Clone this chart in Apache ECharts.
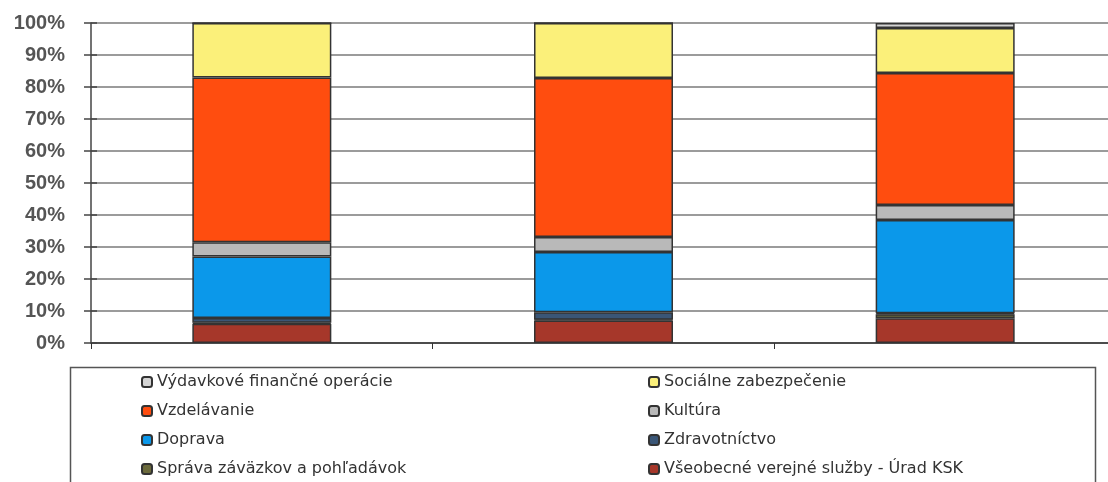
<!DOCTYPE html>
<html>
<head>
<meta charset="utf-8">
<script src="https://cdn.jsdelivr.net/npm/echarts@6/dist/echarts.min.js"></script>
<style>html,body{margin:0;padding:0;background:#fff;overflow:hidden;width:1108px;height:482px}#c{width:1130px;height:530px}</style>
</head>
<body>
<div id="c"></div>
<script>
const categories = ['1', '2', '3'];
const yTicks = ['0%','10%','20%','30%','40%','50%','60%','70%','80%','90%','100%'];
// stacked from bottom to top
const seriesNames = [
  'Všeobecné verejné služby - Úrad KSK',
  'Správa záväzkov a pohľadávok',
  'Zdravotníctvo',
  'Doprava',
  'Kultúra',
  'Vzdelávanie',
  'Sociálne zabezpečenie',
  'Výdavkové finančné operácie'
];
const vseobecne   = [6.0, 7.0, 7.7];
const sprava      = [0.3, 0.3, 1.3];
const zdravotnic  = [1.5, 2.3, 0.3];
const doprava     = [19.2, 18.8, 29.1];
const kultura     = [4.5, 4.7, 4.7];
const vzdelavanie = [51.5, 49.7, 41.3];
const socialne    = [17.0, 17.2, 14.0];
const vydavkove   = [0.0, 0.0, 1.6];
const seriesValues = [vseobecne, sprava, zdravotnic, doprava, kultura, vzdelavanie, socialne, vydavkove];
const colors = ['#a6372a', '#6b6a3c', '#3a5677', '#0b98ea', '#b9b9b9', '#ff4d0f', '#fbf07a', '#d4d4d4'];
const legendCol1 = ['Výdavkové finančné operácie', 'Vzdelávanie', 'Doprava', 'Správa záväzkov a pohľadávok'];
const legendCol2 = ['Sociálne zabezpečenie', 'Kultúra', 'Zdravotníctvo', 'Všeobecné verejné služby - Úrad KSK'];

const chart = echarts.init(document.getElementById('c'), null, {renderer: 'canvas'});
const legendText = {fontFamily: 'DejaVu Sans, sans-serif', fontSize: 16, color: '#333', lineHeight: 14};
const option = {
  animation: false,
  backgroundColor: '#fff',
  grid: {left: 91, top: 23, width: 1025, height: 320, containLabel: false},
  xAxis: {
    type: 'category', data: categories,
    axisLine: {lineStyle: {color: '#333', width: 1.5}},
    axisTick: {show: true, length: 6, lineStyle: {color: '#333'}},
    axisLabel: {show: false},
    splitLine: {show: false}
  },
  yAxis: [{
    type: 'value', min: 0, max: 100, interval: 10, position: 'left',
    axisLine: {show: true, lineStyle: {color: '#444', width: 1.5}},
    axisTick: {show: true, length: 7, lineStyle: {color: '#444', width: 1.5}},
    axisLabel: {
      margin: 26,
      formatter: function (v) { return yTicks[Math.round(v / 10)]; },
      fontFamily: 'Liberation Sans, Arial, sans-serif', fontSize: 20, fontWeight: 'bold', color: '#555'
    },
    splitLine: {show: true, lineStyle: {color: '#7a7a7a', width: 1.5}}
  }, {
    type: 'value', min: 0, max: 100, interval: 10, position: 'left', offset: 0,
    axisLine: {show: false},
    axisTick: {show: true, inside: true, length: 6, lineStyle: {color: '#444', width: 1.5}},
    axisLabel: {show: false},
    splitLine: {show: false}
  }],
  legend: [{
    orient: 'vertical', left: 141, top: 374, height: 140, itemWidth: 10, itemHeight: 10, itemGap: 13,
    data: legendCol1, textStyle: legendText, padding: 0, selectedMode: false
  }, {
    orient: 'vertical', left: 648, top: 374, height: 140, itemWidth: 10, itemHeight: 10, itemGap: 13,
    data: legendCol2, textStyle: legendText, padding: 0, selectedMode: false
  }],
  graphic: [{
    type: 'rect', left: 68, top: 365,
    shape: {width: 1025, height: 140},
    style: {fill: 'none', stroke: '#555', lineWidth: 1.5}
  }],
  series: seriesNames.map(function (name, i) {
    return {
      name: name, type: 'bar', stack: 'total', barWidth: 139,
      data: seriesValues[i],
      itemStyle: {color: colors[i], borderColor: '#333', borderWidth: 1.5}
    };
  })
};
chart.setOption(option);
</script>
</body>
</html>
